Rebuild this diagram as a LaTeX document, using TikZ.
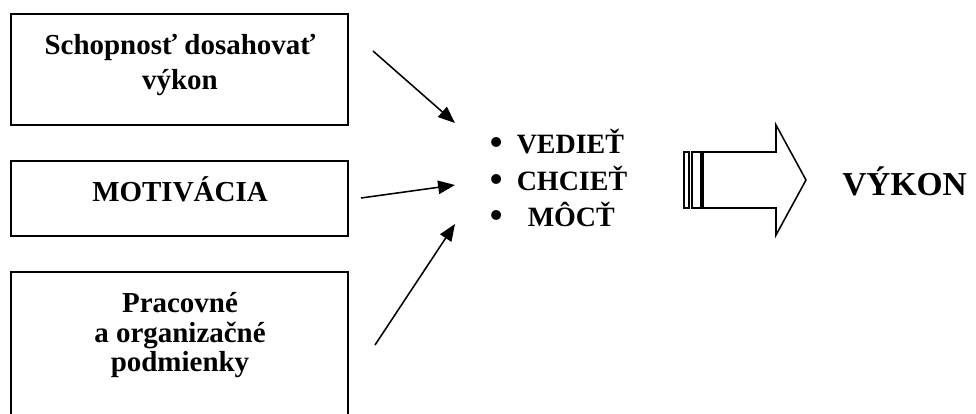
\documentclass[tikz,border=0pt]{standalone}
\usepackage{fontspec}
\setmainfont{Liberation Serif}
\usetikzlibrary{arrows.meta}

\newcommand{\bodka}{\makebox[19.2pt][l]{\raisebox{-1.3pt}{\scalebox{1.3}{•}}}}

\begin{document}
\begin{tikzpicture}[x=0.025cm, y=-0.025cm,
      caja/.style={draw, line width=1.4pt},
      txt/.style={inner sep=0pt, align=center,
                  font=\fontsize{20.6pt}{24.9pt}\selectfont\bfseries},
      bod/.style={inner sep=0pt, anchor=base west,
                  font=\fontsize{19.9pt}{24pt}\selectfont\bfseries},
      sip/.style={line width=1.1pt, -{Triangle[length=12pt,width=9.5pt]}},
      blok/.style={draw, line width=1.1pt}]
    \useasboundingbox (0,0) rectangle (976,414);
    \draw[caja] (11,14) rectangle (348,125);
    \draw[caja] (11,161) rectangle (348,236);
    \draw[caja] (11,414) -- (11,272) -- (348,272) -- (348,414);
    \node[txt] (schop) at (180,65) {Schopnosť dosahovať\\výkon};
    \node[txt, anchor=base] (motiv) at (180,201) {MOTIVÁCIA};
    \node[txt, font=\fontsize{20.6pt}{21pt}\selectfont\bfseries] (podm) at (180,335.5)
      {Pracovné\\a organizačné\\podmienky};
    \node[bod] (vediet) at (489.5,153) {\bodka VEDIEŤ};
    \node[bod] (chciet) at (489.5,190) {\bodka CHCIEŤ};
    \node[bod] (moct)   at (489.5,226) {\bodka\hspace{7.8pt}MÔCŤ};
    \coordinate (z1) at (373,51);
    \coordinate (z2) at (361,198);
    \coordinate (z3) at (375,345);
    \coordinate (k1) at (455,123);
    \coordinate (k2) at (455,185);
    \coordinate (k3) at (455,224);
    \draw[sip] (z1) -- (k1);
    \draw[sip] (z2) -- (k2);
    \draw[sip] (z3) -- (k3);
    \draw[blok] (684,152) rectangle (689,208);
    \draw[blok] (692,152) rectangle (701,208);
    \draw[blok] (703,152) -- (776,152) -- (776,125) -- (806,180)
      -- (776,235) -- (776,208) -- (703,208) -- cycle;
    \node[inner sep=0pt, anchor=base west,
          font=\fontsize{23.8pt}{28pt}\selectfont\bfseries] (vykon) at (842,195) {VÝKON};
  \end{tikzpicture}
\end{document}
